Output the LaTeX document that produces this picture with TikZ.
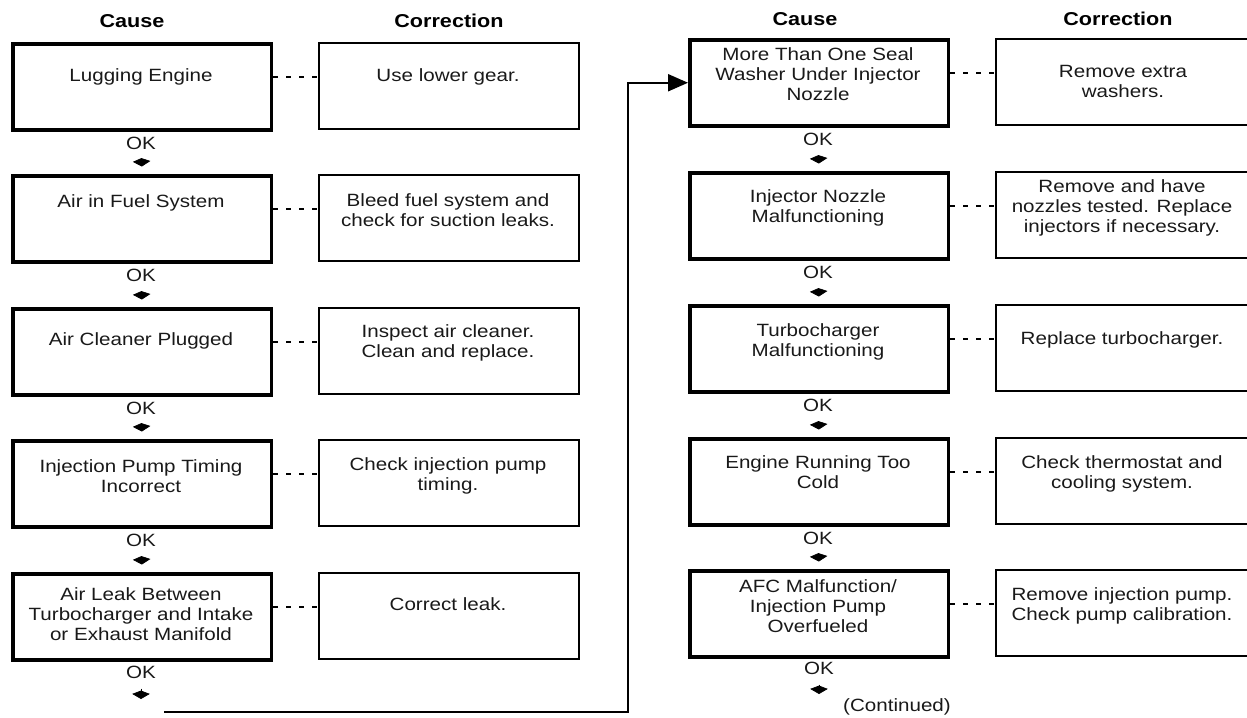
\documentclass[tikz,border=0pt]{standalone}
\usepackage{fontspec}
\setmainfont{Liberation Sans}[FakeStretch=1.16]
\usetikzlibrary{arrows.meta}
\begin{document}
\begin{tikzpicture}[x=0.02cm,y=-0.02cm,
  every node/.style={inner sep=0pt},
  txt/.style={font=\fontsize{10.1pt}{11.4pt}\selectfont, align=center, text=black!90},
  hdr/.style={font=\fontsize{10.6pt}{12pt}\selectfont\bfseries},
  causebox/.style={draw, line width=2pt, minimum width=5.18cm, minimum height=1.72cm, anchor=north west},
  corrbox/.style={draw, line width=0.9pt, minimum width=5.2cm, minimum height=1.72cm, anchor=north west},
  corrboxR/.style={corrbox, minimum width=5.4cm},
  dotline/.style={line width=0.9pt, dash pattern=on 2.8pt off 4.6pt},
  okarrow/.style={-{Kite[length=4.8pt,width=10pt,inset=1.9pt]}, line width=0.4pt, shorten <=0.2cm, shorten >=0.15cm},
  okend/.style={-{Kite[length=4.8pt,width=10pt,inset=1.9pt]}, line width=0.4pt, shorten <=0.2cm},
  conn/.style={line width=1.2pt, -{Triangle[length=0.4cm,width=0.34cm]}},
]
\useasboundingbox (0,0) rectangle (1247,717);
\clip (0,0) rectangle (1247,717);

% headers
\node[hdr] (hL1) at (132,21) {Cause};
\node[hdr] (hL2) at (449,21) {Correction};
\node[hdr] (hR1) at (805,19) {Cause};
\node[hdr] (hR2) at (1118,19) {Correction};

% left column boxes
\node[causebox] (cL1) at (11,42) {};
\node[causebox] (cL2) at (11,174) {};
\node[causebox] (cL3) at (11,307) {};
\node[causebox] (cL4) at (11,439) {};
\node[causebox] (cL5) at (11,572) {};
\node[corrbox] (kL1) at (318,42) {};
\node[corrbox] (kL2) at (318,174) {};
\node[corrbox] (kL3) at (318,307) {};
\node[corrbox] (kL4) at (318,439) {};
\node[corrbox] (kL5) at (318,572) {};

% right column boxes
\node[causebox] (cR1) at (688,38) {};
\node[causebox] (cR2) at (688,171) {};
\node[causebox] (cR3) at (688,304) {};
\node[causebox] (cR4) at (688,437) {};
\node[causebox] (cR5) at (688,569) {};
\node[corrboxR] (kR1) at (995,38) {};
\node[corrboxR] (kR2) at (995,171) {};
\node[corrboxR] (kR3) at (995,304) {};
\node[corrboxR] (kR4) at (995,437) {};
\node[corrboxR] (kR5) at (995,569) {};

% left texts
\node[txt] (tL1) at (141,77) {Lugging Engine};
\node[txt] (tL2) at (141,203) {Air in Fuel System};
\node[txt] (tL3) at (141,341) {Air Cleaner Plugged};
\node[txt] (tL4) at (141,476) {Injection Pump Timing\\Incorrect};
\node[txt] (tL5) at (141,614) {Air Leak Between\\Turbocharger and Intake\\or Exhaust Manifold};
\node[txt] (uL1) at (448,77) {Use lower gear.};
\node[txt] (uL2) at (448,210) {Bleed fuel system and\\check for suction leaks.};
\node[txt] (uL3) at (448,343) {Inspect air cleaner.\\Clean and replace.};
\node[txt] (uL4) at (448,476) {Check injection pump\\timing.};
\node[txt] (uL5) at (448,604) {Correct leak.};

% right texts
\node[txt] (tR1) at (818,74) {More Than One Seal\\Washer Under Injector\\Nozzle};
\node[txt] (tR2) at (818,208) {Injector Nozzle\\Malfunctioning};
\node[txt] (tR3) at (818,342) {Turbocharger\\Malfunctioning};
\node[txt] (tR4) at (818,472) {Engine Running Too\\Cold};
\node[txt] (tR5) at (818,606) {AFC Malfunction/\\Injection Pump\\Overfueled};
\node[txt] (uR1) at (1123,81) {Remove extra\\washers.};
\node[txt] (uR2) at (1122,208) {Remove and have\\nozzles tested. Replace\\injectors if necessary.};
\node[txt] (uR3) at (1122,340) {Replace turbocharger.};
\node[txt] (uR4) at (1122,474) {Check thermostat and\\cooling system.};
\node[txt] (uR5) at (1122,606) {Remove injection pump.\\Check pump calibration.};

% dotted links cause -> correction
\foreach \s in {L,R}{
  \foreach \i in {1,...,5}{
    \draw[dotline] ([yshift=-0.7cm]c\s\i.north east) -- ([yshift=-0.7cm]k\s\i.north west);
  }
}

% OK labels
\node[txt] (okL1) at (141,143) {OK};
\node[txt] (okL2) at (141,275) {OK};
\node[txt] (okL3) at (141,408) {OK};
\node[txt] (okL4) at (141,540) {OK};
\node[txt] (okL5) at (141,672) {OK};
\node[txt] (okR1) at (818,139) {OK};
\node[txt] (okR2) at (818,272) {OK};
\node[txt] (okR3) at (818,405) {OK};
\node[txt] (okR4) at (818,538) {OK};
\node[txt] (okR5) at (819,668) {OK};

% OK arrows
\draw[okarrow] (okL1.south) -- (cL2.north);
\draw[okarrow] (okL2.south) -- (cL3.north);
\draw[okarrow] (okL3.south) -- (cL4.north);
\draw[okarrow] (okL4.south) -- (cL5.north);
\draw[okarrow] (okR1.south) -- (cR2.north);
\draw[okarrow] (okR2.south) -- (cR3.north);
\draw[okarrow] (okR3.south) -- (cR4.north);
\draw[okarrow] (okR4.south) -- (cR5.north);
\coordinate (endL) at (141,699);
\coordinate (endR) at (819,694);
\draw[okend] (okL5.south) -- (endL);
\draw[okend] (okR5.south) -- (endR);

\node[txt] (cont) at (897,707) {(Continued)};

% continuation connector
\coordinate (start) at (164,712);
\coordinate (turn) at (628,712);
\draw[conn] (start) -- (turn) |- (cR1.west);
\end{tikzpicture}
\end{document}
